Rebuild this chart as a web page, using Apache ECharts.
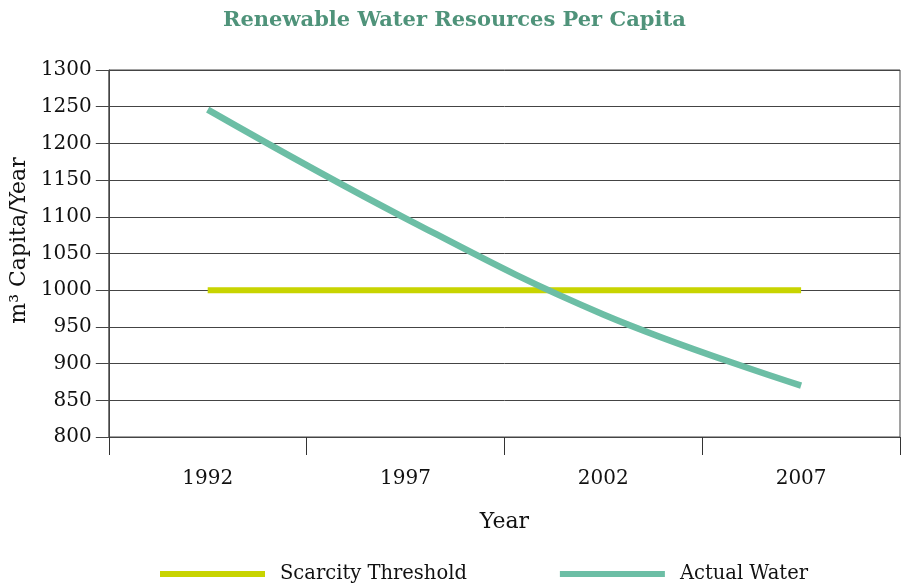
<!DOCTYPE html>
<html>
<head>
<meta charset="utf-8">
<script src="https://cdn.jsdelivr.net/npm/echarts@6/dist/echarts.min.js"></script>
<style>html,body{margin:0;padding:0;background:#fff;}#c{width:901px;height:587px;}</style>
</head>
<body>
<div id="c"></div>
<script>
var years = ['1992', '1997', '2002', '2007'];
var scarcityThreshold = [1000, 1000, 1000, 1000];
var actualWater = [1246, 1098, 967, 870];
var yTicks = { min: 800, max: 1300, interval: 50 };

var font = 'DejaVu Serif';
var chart = echarts.init(document.getElementById('c'));
chart.setOption({
  animation: false,
  backgroundColor: '#fff',
  title: {
    text: 'Renewable Water Resources Per Capita',
    left: 218, top: 5,
    textStyle: { fontFamily: font, fontSize: 21, fontWeight: 'bold', color: '#4f937a' }
  },
  grid: { left: 108, right: 1, top: 70, bottom: 150, show: true, borderColor: '#444', borderWidth: 1 },
  legend: {
    top: 559, left: 155,
    itemWidth: 105, itemHeight: 6, itemGap: 93,
    icon: 'rect',
    textStyle: { fontFamily: font, fontSize: 19.5, color: '#111', padding: [0, 0, 0, 10] },
    data: ['Scarcity Threshold', 'Actual Water']
  },
  xAxis: {
    type: 'category', data: years, boundaryGap: true,
    name: 'Year', nameLocation: 'middle', nameGap: 74,
    nameTextStyle: { fontFamily: font, fontSize: 22, color: '#111' },
    axisLine: { lineStyle: { color: '#444', width: 1 } },
    axisTick: { show: true, length: 18, lineStyle: { color: '#333' } },
    axisLabel: { fontFamily: font, fontSize: 20, color: '#111', margin: 32 }
  },
  yAxis: {
    type: 'value', min: yTicks.min, max: yTicks.max, interval: yTicks.interval,
    name: 'm³ Capita/Year', nameLocation: 'middle', nameGap: 66,
    nameTextStyle: { fontFamily: font, fontSize: 22, color: '#111', padding: [0, 0, 0, 26] },
    axisLine: { show: true, lineStyle: { color: '#444', width: 1 } },
    axisTick: { show: true, length: 13, lineStyle: { color: '#444' } },
    axisLabel: { fontFamily: font, fontSize: 20, color: '#111', margin: 17,
      formatter: function (v) { return String(v); } },
    splitLine: { show: true, lineStyle: { color: '#444', width: 1 } }
  },
  series: [
    {
      name: 'Scarcity Threshold', type: 'line', data: scarcityThreshold,
      showSymbol: false, symbol: 'none',
      lineStyle: { color: '#c8d400', width: 6, cap: 'butt' },
      itemStyle: { color: '#c8d400' }, z: 3
    },
    {
      name: 'Actual Water', type: 'line', data: actualWater, smooth: 0.4,
      showSymbol: false, symbol: 'none',
      lineStyle: { color: '#6cbea5', width: 6.5, cap: 'butt' },
      itemStyle: { color: '#6cbea5' }, z: 4
    }
  ]
});
</script>
</body>
</html>
